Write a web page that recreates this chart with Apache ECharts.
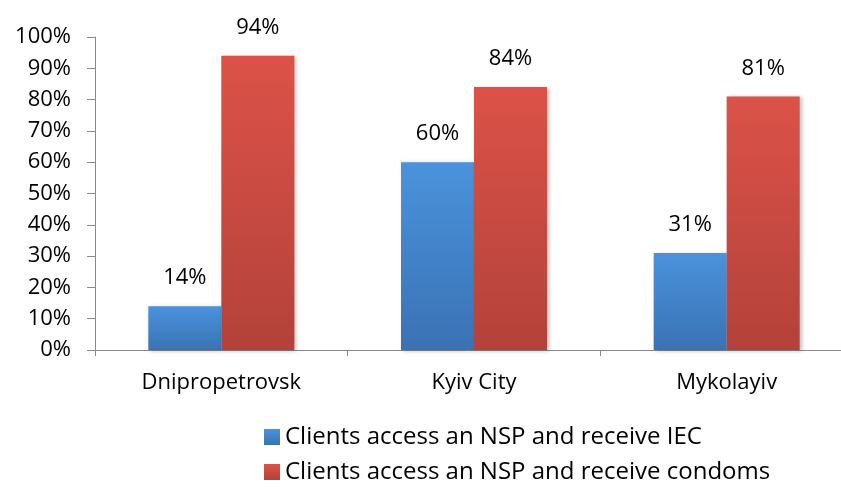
<!DOCTYPE html>
<html>
<head>
<meta charset="utf-8">
<script src="https://cdn.jsdelivr.net/npm/echarts@6/dist/echarts.min.js"></script>
<style>
  html, body { margin: 0; padding: 0; background: #fff; }
  #chart { width: 841px; height: 487px; }
</style>
</head>
<body>
<div id="chart"></div>
<script>
var regions = ['Dnipropetrovsk', 'Kyiv City', 'Mykolayiv'];
var seriesNames = ['Clients access an NSP and receive IEC', 'Clients access an NSP and receive condoms'];
var iecValues = [14, 60, 31];
var condomValues = [94, 84, 81];

var font = 'Open Sans';

var grad = function (top, bottom) {
    return new echarts.graphic.LinearGradient(0, 0, 0, 1, [
        { offset: 0, color: top },
        { offset: 1, color: bottom }
    ]);
};

var myChart = echarts.init(document.getElementById('chart'));

var barLabel = { show: true, position: 'top', distance: 17, fontSize: 22, color: '#000', formatter: '{c}%', fontFamily: font };

var option = {
    backgroundColor: '#fff',
    textStyle: { fontFamily: font },
    grid: { left: 95, right: -12, top: 37, bottom: 137, outerBoundsMode: 'none', containLabel: false },
    legend: {
        orient: 'vertical',
        left: 264,
        top: 424,
        padding: 0,
        itemWidth: 16,
        itemHeight: 16,
        itemGap: 9,
        icon: 'rect',
        textStyle: { fontSize: 24, lineHeight: 26, color: '#000', fontFamily: font },
        data: seriesNames
    },
    xAxis: {
        type: 'category',
        data: regions,
        axisLine: { lineStyle: { color: '#898989', width: 1 } },
        axisTick: { show: true, length: 6, lineStyle: { color: '#898989' } },
        axisLabel: { fontSize: 22, color: '#000', margin: 22, fontFamily: font }
    },
    yAxis: {
        type: 'value',
        min: 0,
        max: 100,
        interval: 10,
        splitLine: { show: false },
        axisLine: { show: true, lineStyle: { color: '#898989', width: 1 } },
        axisTick: { show: true, length: 8, lineStyle: { color: '#898989' } },
        axisLabel: { fontSize: 22, color: '#000', margin: 24, formatter: '{value}%', fontFamily: font }
    },
    series: [
        {
            name: seriesNames[0],
            type: 'bar',
            data: iecValues,
            barWidth: 73,
            barGap: '0%',
            itemStyle: { color: grad('#4a93dc', '#3a72b4'), shadowColor: 'rgba(0,0,0,0.25)', shadowBlur: 4, shadowOffsetX: 2, shadowOffsetY: 1 },
            label: barLabel
        },
        {
            name: seriesNames[1],
            type: 'bar',
            data: condomValues,
            barWidth: 73,
            barGap: '0%',
            itemStyle: { color: grad('#dc5248', '#b3423a'), shadowColor: 'rgba(0,0,0,0.25)', shadowBlur: 4, shadowOffsetX: 2, shadowOffsetY: 1 },
            label: barLabel
        }
    ]
};

myChart.setOption(option);
</script>
</body>
</html>
